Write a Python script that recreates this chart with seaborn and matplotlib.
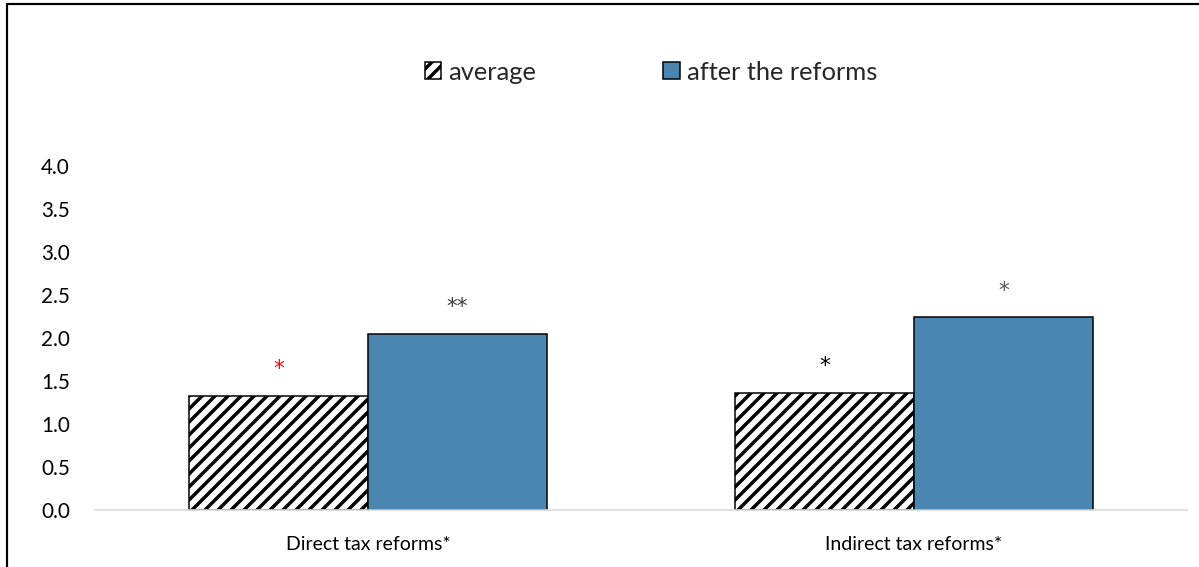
import pandas as pd
import matplotlib
matplotlib.use("Agg")
import matplotlib.pyplot as plt
import seaborn as sns
from matplotlib.lines import Line2D

# data
categories = ["Direct tax reforms*", "Indirect tax reforms*"]
series_names = ["average", "after the reforms"]
average = [1.33, 1.36]
after_reforms = [2.05, 2.24]
avg_marks = ["*", "*"]
avg_mark_colors = ["#FF0000", "#000000"]
after_marks = ["**", "*"]
after_mark_colors = ["#404040", "#595959"]
yticks = [0.0, 0.5, 1.0, 1.5, 2.0, 2.5, 3.0, 3.5, 4.0]

df = pd.DataFrame({
    "category": categories * 2,
    "series": [series_names[0]] * 2 + [series_names[1]] * 2,
    "value": average + after_reforms,
})

sns.set_style("white")
plt.rcParams["font.family"] = ["Lato", "DejaVu Sans"]
plt.rcParams["hatch.linewidth"] = 3.2
plt.rcParams["hatch.color"] = "black"

DPI = 78
fig = plt.figure(figsize=(1199 / DPI, 567 / DPI), dpi=DPI)
ax = fig.add_axes([0.0792, 0.1005, 0.9108, 0.6067])

sns.barplot(data=df, x="category", y="value", hue="series",
            hue_order=series_names, order=categories,
            palette={"average": "white", "after the reforms": "#4A86B0"},
            saturation=1, width=0.656, edgecolor="black", linewidth=1.4,
            ax=ax, legend=False)

for p in ax.containers[0]:
    p.set_hatch("//")

# significance stars
off = 0.656 / 4
for i in range(len(categories)):
    ax.text(i - off, average[i] + 0.31, avg_marks[i], color=avg_mark_colors[i],
            ha="center", va="center", fontsize=20, family="DejaVu Sans")
    ax.text(i + off, after_reforms[i] + 0.31, after_marks[i], color=after_mark_colors[i],
            ha="center", va="center", fontsize=20, family="DejaVu Sans")

ax.set_ylim(0, 4)
ax.set_xlim(-0.5, 1.5)
ax.set_yticks(yticks)
ax.set_yticklabels([f"{t:.1f}" for t in yticks])
ax.set_xlabel("")
ax.set_ylabel("")
ax.tick_params(axis="y", length=0, pad=23, labelsize=19, labelcolor="black")
ax.tick_params(axis="x", length=0, pad=24, labelsize=18, labelcolor="black")
for s in ["top", "right", "left"]:
    ax.spines[s].set_visible(False)
ax.spines["bottom"].set_color("#D9D9D9")
ax.spines["bottom"].set_linewidth(1.5)

handles = [ax.containers[0][0], ax.containers[1][0]]
fig.legend(handles, series_names, loc="center", bbox_to_anchor=(0.543, 0.873),
           ncol=2, frameon=False, fontsize=23.5, columnspacing=5.0,
           handlelength=0.65, handleheight=0.65, handletextpad=0.27)

# border lines of the chart box
fig.add_artist(Line2D([0.0055, 1.0], [0.993, 0.993], color="black", lw=2.0,
                      transform=fig.transFigure))
fig.add_artist(Line2D([0.0058, 0.0058], [0.0, 0.993], color="black", lw=2.0,
                      transform=fig.transFigure))

plt.savefig("out.png", dpi=DPI)
